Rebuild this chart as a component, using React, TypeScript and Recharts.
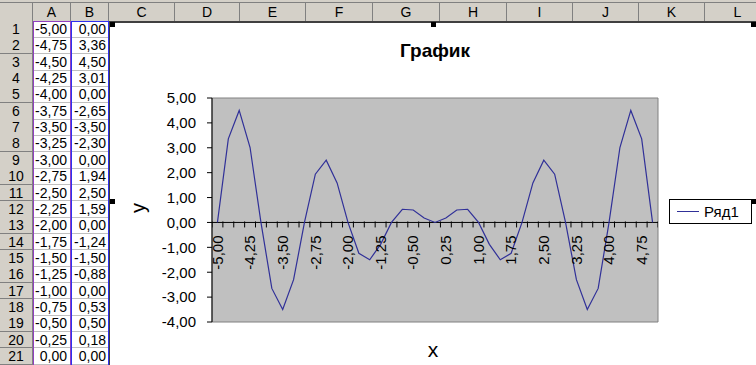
import { ComposedChart, Line, Scatter, XAxis, YAxis, ReferenceArea, ReferenceLine } from "recharts";

// Excel sheet: column A = x, column B = y (x·sin(πx), as typed in the sheet)
const X_VALUES = [
  -5, -4.75, -4.5, -4.25, -4, -3.75, -3.5, -3.25, -3, -2.75, -2.5, -2.25, -2, -1.75,
  -1.5, -1.25, -1, -0.75, -0.5, -0.25, 0, 0.25, 0.5, 0.75, 1, 1.25, 1.5, 1.75, 2,
  2.25, 2.5, 2.75, 3, 3.25, 3.5, 3.75, 4, 4.25, 4.5, 4.75, 5,
];
const Y_VALUES = [
  0, 3.36, 4.5, 3.01, 0, -2.65, -3.5, -2.3, 0, 1.94, 2.5, 1.59, 0, -1.24,
  -1.5, -0.88, 0, 0.53, 0.5, 0.18, 0, 0.18, 0.5, 0.53, 0, -0.88, -1.5, -1.24, 0,
  1.59, 2.5, 1.94, 0, -2.3, -3.5, -2.65, 0, 3.01, 4.5, 3.36, 0,
];
const Y_TICKS = [5, 4, 3, 2, 1, 0, -1, -2, -3, -4];
const LABEL_EVERY = 3;
const COLUMNS = ["A", "B", "C", "D", "E", "F", "G", "H", "I", "J", "K", "L"];
const VISIBLE_ROWS = 21;
const TITLE = "График";
const SERIES = "Ряд1";
const X_TITLE = "x";
const Y_TITLE = "y";

const FONT = "'Liberation Sans', Arial, sans-serif";
const HEADER_BG = "#D4D0C8";
const LINE = "#303098";
const COL_EDGES = [0, 33, 71, 109, 175, 240, 306, 373, 440, 507, 573, 639, 705, 771];
const ROW_TOP = 21;
const ROW_H = 16.35;

const fmt = (v: number) => (Math.abs(v) < 0.005 ? "0,00" : v.toFixed(2).replace(".", ","));

const half = (X_VALUES[1] - X_VALUES[0]) / 2;
const points = X_VALUES.map((x, i) => ({ x, y: Y_VALUES[i] }));
const tickMarks = [...X_VALUES.map((x) => x - half), X_VALUES[X_VALUES.length - 1] + half].map((x) => ({ x, y: 0 }));
const tickLabels = X_VALUES.filter((_, i) => i % LABEL_EVERY === 0).map((x) => ({ x, y: 0, label: fmt(x) }));

function TickMark(props: any) {
  const { cx, cy } = props;
  if (cx === undefined) return null;
  return <line x1={cx} x2={cx} y1={cy - 1} y2={cy + 5} stroke="#000" strokeWidth={1} />;
}

function TickLabel(props: any) {
  const { cx, cy, payload } = props;
  if (cx === undefined) return null;
  const y = cy + 13;
  return (
    <text x={cx} y={y} transform={`rotate(-90 ${cx} ${y})`} textAnchor="end" dy="0.35em"
      fontSize={15} fontFamily={FONT} fill="#000">{payload.label}</text>
  );
}

function Sheet() {
  const rows = X_VALUES.slice(0, VISIBLE_ROWS);
  const box = { position: "absolute" as const, boxSizing: "border-box" as const };
  return (
    <>
      <div style={{ ...box, left: 0, top: 0, width: 756, height: 3, background: HEADER_BG, borderBottom: "1px solid #808080" }} />
      <div style={{ ...box, left: 0, top: 3, width: 756, height: 19, background: HEADER_BG, borderBottom: "1px solid #808080" }} />
      <div style={{ ...box, left: 0, top: 3, width: 33, height: 19, borderRight: "1px solid #808080" }} />
      {COLUMNS.map((c, i) => (
        <div key={c} style={{
          ...box, left: COL_EDGES[i + 1], top: 3, width: COL_EDGES[i + 2] - COL_EDGES[i + 1], height: 19,
          borderRight: "1px solid #808080", textAlign: "center", lineHeight: "18px", fontSize: 14, color: "#000",
        }}>{c}</div>
      ))}
      {rows.map((x, i) => {
        const top = ROW_TOP + i * ROW_H;
        return (
          <div key={i}>
            <div style={{
              ...box, left: 0, top, width: 33, height: ROW_H + 0.5, background: HEADER_BG,
              borderRight: "1px solid #808080", borderBottom: "1px solid #808080",
              textAlign: "center", fontSize: 14, lineHeight: `${ROW_H}px`,
            }}>{i + 1}</div>
            <div style={{
              ...box, left: COL_EDGES[1], top, width: COL_EDGES[2] - COL_EDGES[1], height: ROW_H + 0.5,
              borderBottom: "1px solid #C0C0C0", borderRight: "1px solid #C0C0C0",
              textAlign: "right", paddingRight: 3, fontSize: 14, lineHeight: `${ROW_H}px`,
            }}>{fmt(x)}</div>
            <div style={{
              ...box, left: COL_EDGES[2], top, width: COL_EDGES[3] - COL_EDGES[2], height: ROW_H + 0.5,
              borderBottom: "1px solid #C0C0C0",
              textAlign: "right", paddingRight: 3, fontSize: 14, lineHeight: `${ROW_H}px`,
            }}>{fmt(Y_VALUES[i])}</div>
          </div>
        );
      })}
      <div style={{ ...box, left: 33, top: 21, width: 38, height: 350, border: "1px solid #9040C0" }} />
      <div style={{ ...box, left: 71, top: 21, width: 38, height: 350, border: "1px solid #3030F0" }} />
    </>
  );
}

function Handles() {
  const spots = [[110, 22], [431, 22], [751, 22], [110, 199], [751, 199]];
  return (
    <>
      {spots.map(([l, t], i) => (
        <div key={i} style={{ position: "absolute", left: l, top: t, width: 5, height: 5, background: "#000" }} />
      ))}
    </>
  );
}

export default function App() {
  return (
    <div style={{
      position: "fixed", left: 0, top: 0, width: 756, height: 365, overflow: "hidden",
      background: "#fff", fontFamily: FONT, color: "#000",
    }}>
      <Sheet />
      <div style={{
        position: "absolute", left: 109, top: 21, width: 660, height: 360, background: "#fff",
        borderLeft: "1px solid #404040", borderTop: "2px solid #404040", boxSizing: "border-box",
      }} />
      <div style={{ position: "absolute", left: 110, top: 22 }}>
        <ComposedChart width={646} height={343} margin={{ top: 76, right: 98, bottom: 43, left: 42 }}>
          <XAxis type="number" dataKey="x" domain={[X_VALUES[0] - half, X_VALUES[X_VALUES.length - 1] + half]}
            allowDataOverflow hide height={0} />
          <YAxis type="number" dataKey="y" domain={[-4, 5]} ticks={Y_TICKS} allowDataOverflow width={60}
            tickFormatter={fmt} tickSize={5} tickMargin={11}
            axisLine={{ stroke: "#000" }} tickLine={{ stroke: "#000" }}
            tick={{ fill: "#000", fontSize: 15, fontFamily: FONT }} />
          <ReferenceArea x1={X_VALUES[0] - half} x2={X_VALUES[X_VALUES.length - 1] + half} y1={-4} y2={5}
            fill="#C0C0C0" fillOpacity={1} stroke="#808080" strokeWidth={1} />
          <ReferenceLine y={0} stroke="#000" strokeWidth={1} />
          <Scatter data={tickMarks} shape={(p: any) => <TickMark {...p} />} legendType="none" isAnimationActive={false} />
          <Scatter data={tickLabels} shape={(p: any) => <TickLabel {...p} />} legendType="none" isAnimationActive={false} />
          <Line data={points} type="linear" dataKey="y" name={SERIES} stroke={LINE} strokeWidth={1.2}
            dot={false} activeDot={false} isAnimationActive={false} />
        </ComposedChart>
      </div>
      <div style={{
        position: "absolute", left: 435, top: 41, transform: "translateX(-50%)", whiteSpace: "nowrap",
        fontSize: 19, fontWeight: "bold", lineHeight: "19px",
      }}>{TITLE}</div>
      <div style={{
        position: "absolute", left: 138, top: 208, transform: "translate(-50%, -50%) rotate(-90deg)",
        fontSize: 20, lineHeight: "20px",
      }}>{Y_TITLE}</div>
      <div style={{
        position: "absolute", left: 433, top: 349, transform: "translate(-50%, -50%)",
        fontSize: 21, lineHeight: "21px",
      }}>{X_TITLE}</div>
      <div style={{
        position: "absolute", left: 669, top: 199, width: 83, height: 25, boxSizing: "border-box",
        border: "1px solid #000", background: "#fff", display: "flex", alignItems: "center",
      }}>
        <div style={{ marginLeft: 7, width: 22, height: 1.2, background: LINE }} />
        <span style={{ marginLeft: 5, fontSize: 15, lineHeight: "15px" }}>{SERIES}</span>
      </div>
      <Handles />
    </div>
  );
}
